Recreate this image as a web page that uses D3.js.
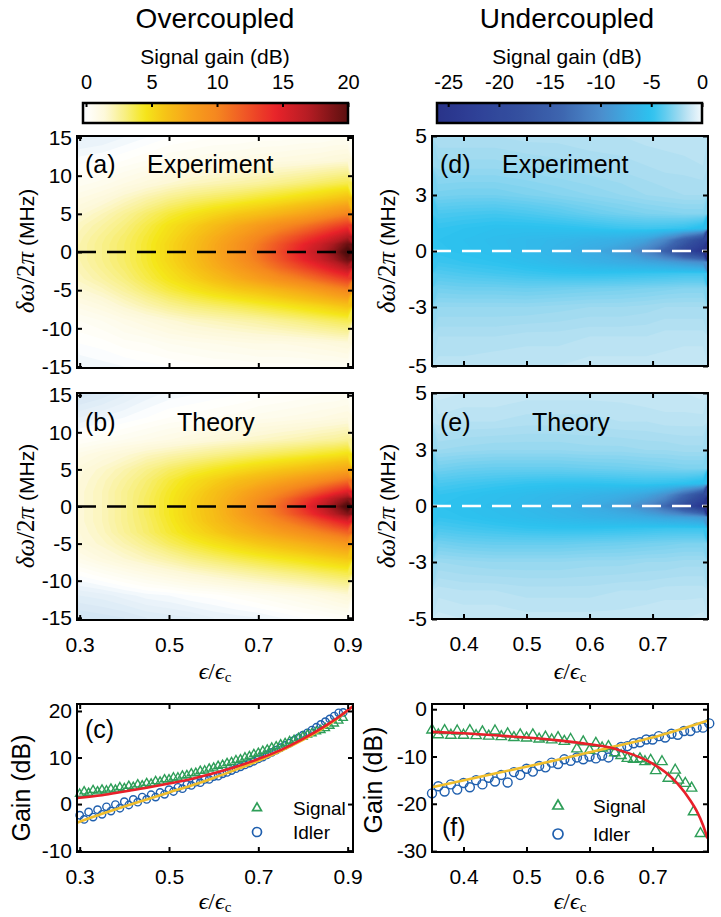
<!DOCTYPE html>
<meta charset="utf-8">
<style>body { margin: 0; background: #fff }</style>
<svg width="721" height="917"></svg>
<script src="https://d3js.org/d3.v7.min.js"></script>
<script>
// ---------- data ----------
// heatmap grids, overcoupled (a, b): one array per eps column, rows from +15 MHz down to -15 MHz
var gridEpsOver = [0.30, 0.35, 0.40, 0.45, 0.50, 0.55, 0.60, 0.65, 0.70, 0.75, 0.80, 0.84, 0.87, 0.90];
var gridDeltaOver = [15, 12, 9, 7, 5, 3.5, 2, 1, 0, -1, -2, -3.5, -5, -7, -9, -12, -15];
var gainExpOver = [
  [-0.7, -0.1, 0.5, 1.0, 1.5, 1.9, 2.1, 2.2, 2.2, 2.2, 2.1, 1.9, 1.5, 0.9, 0.4, 0.0, -0.4],
  [-0.6, 0.0, 0.7, 1.3, 2.0, 2.4, 2.7, 2.8, 2.8, 2.8, 2.7, 2.4, 1.9, 1.2, 0.6, 0.1, -0.3],
  [-0.4, 0.2, 1.0, 1.8, 2.6, 3.0, 3.3, 3.4, 3.4, 3.4, 3.3, 3.0, 2.5, 1.7, 0.9, 0.3, -0.2],
  [-0.2, 0.4, 1.3, 2.3, 3.3, 3.8, 4.1, 4.2, 4.2, 4.2, 4.1, 3.8, 3.2, 2.2, 1.2, 0.4, -0.1],
  [0.0, 0.6, 1.6, 2.8, 4.0, 4.7, 5.0, 5.2, 5.2, 5.2, 5.0, 4.6, 3.9, 2.7, 1.5, 0.6, 0.0],
  [0.1, 0.7, 1.9, 3.2, 4.6, 5.5, 6.0, 6.2, 6.3, 6.2, 6.0, 5.4, 4.5, 3.1, 1.8, 0.7, 0.1],
  [0.2, 0.8, 2.1, 3.5, 5.2, 6.4, 7.2, 7.5, 7.6, 7.5, 7.2, 6.3, 5.1, 3.4, 2.0, 0.8, 0.2],
  [0.2, 0.9, 2.3, 3.8, 5.8, 7.4, 8.4, 8.9, 9.0, 8.9, 8.4, 7.3, 5.7, 3.7, 2.2, 0.9, 0.2],
  [0.3, 1.0, 2.5, 4.2, 6.3, 8.4, 9.8, 10.5, 10.8, 10.5, 9.8, 8.3, 6.2, 4.1, 2.4, 1.0, 0.3],
  [0.3, 1.1, 2.8, 4.6, 7.0, 9.5, 11.4, 12.4, 12.8, 12.4, 11.4, 9.4, 6.9, 4.5, 2.7, 1.0, 0.3],
  [0.4, 1.2, 3.1, 5.1, 7.8, 10.6, 13.0, 14.4, 15.0, 14.4, 13.0, 10.5, 7.7, 5.0, 3.0, 1.1, 0.3],
  [0.4, 1.3, 3.4, 5.5, 8.6, 11.7, 14.4, 16.0, 16.8, 16.0, 14.4, 11.6, 8.5, 5.4, 3.3, 1.2, 0.4],
  [0.5, 1.4, 3.6, 5.9, 9.3, 12.6, 15.6, 17.5, 18.5, 17.5, 15.6, 12.5, 9.2, 5.8, 3.5, 1.3, 0.4],
  [0.5, 1.5, 3.8, 6.3, 10.0, 13.5, 17.0, 19.5, 21.0, 19.5, 17.0, 13.4, 9.9, 6.2, 3.7, 1.4, 0.5]
];
var gainThOver = [
  [-1.3, -0.6, 0.2, 0.9, 1.3, 1.4, 1.5, 1.5, 1.5, 1.5, 1.5, 1.4, 1.3, 0.8, 0.1, -0.8, -1.4],
  [-1.1, -0.4, 0.4, 1.2, 1.7, 1.9, 2.0, 2.0, 2.0, 2.0, 2.0, 1.9, 1.7, 1.2, 0.4, -0.7, -1.3],
  [-0.8, -0.2, 0.6, 1.5, 2.2, 2.5, 2.7, 2.7, 2.7, 2.7, 2.7, 2.6, 2.2, 1.6, 0.7, -0.5, -1.2],
  [-0.5, 0.0, 0.8, 1.9, 2.8, 3.2, 3.4, 3.5, 3.5, 3.5, 3.4, 3.3, 2.8, 2.0, 1.0, -0.3, -1.0],
  [-0.3, 0.2, 1.0, 2.2, 3.4, 4.0, 4.3, 4.4, 4.4, 4.4, 4.3, 4.1, 3.5, 2.4, 1.3, -0.2, -0.9],
  [-0.2, 0.3, 1.2, 2.5, 3.9, 4.8, 5.2, 5.4, 5.4, 5.4, 5.3, 4.9, 4.1, 2.9, 1.6, 0.0, -0.8],
  [-0.1, 0.4, 1.4, 2.8, 4.4, 5.5, 6.2, 6.4, 6.5, 6.4, 6.3, 5.7, 4.7, 3.3, 1.9, 0.1, -0.6],
  [0.0, 0.5, 1.6, 3.1, 4.9, 6.3, 7.3, 7.7, 7.9, 7.8, 7.4, 6.6, 5.3, 3.7, 2.2, 0.3, -0.5],
  [0.1, 0.7, 1.8, 3.4, 5.4, 7.0, 8.5, 9.2, 9.6, 9.3, 8.6, 7.4, 5.9, 4.1, 2.5, 0.5, -0.4],
  [0.2, 0.8, 2.0, 3.7, 5.9, 7.8, 9.8, 10.9, 11.5, 11.0, 10.0, 8.3, 6.5, 4.5, 2.8, 0.7, -0.2],
  [0.3, 0.9, 2.2, 4.0, 6.4, 8.7, 11.2, 13.0, 14.0, 13.1, 11.4, 9.2, 7.1, 4.9, 3.1, 0.9, 0.0],
  [0.4, 1.0, 2.4, 4.3, 6.9, 9.5, 12.6, 15.0, 16.3, 15.1, 12.8, 10.1, 7.7, 5.3, 3.4, 1.1, 0.1],
  [0.4, 1.1, 2.5, 4.5, 7.3, 10.2, 13.8, 16.8, 18.3, 16.9, 14.0, 10.8, 8.2, 5.6, 3.6, 1.3, 0.2],
  [0.5, 1.2, 2.7, 4.8, 7.7, 11.0, 15.0, 18.5, 21.0, 18.6, 15.2, 11.6, 8.7, 5.9, 3.8, 1.5, 0.3]
];

// heatmap grids, undercoupled (d, e): rows from +5 MHz down to -5 MHz
var gridEpsUnder = [0.36, 0.40, 0.45, 0.50, 0.55, 0.60, 0.65, 0.69, 0.72, 0.75, 0.78];
var gridDeltaUnder = [5, 4, 3, 2, 1.2, 0.6, 0, -0.6, -1.2, -2, -3, -4, -5];
var gainExpUnder = [
  [-1.8, -2.3, -3.1, -4.2, -4.8, -5.0, -4.9, -4.6, -4.0, -3.2, -2.4, -1.8, -1.5],
  [-1.8, -2.3, -3.2, -4.3, -5.0, -5.2, -5.1, -4.8, -4.2, -3.3, -2.4, -1.8, -1.5],
  [-1.8, -2.3, -3.2, -4.4, -5.2, -5.5, -5.4, -5.0, -4.4, -3.3, -2.4, -1.8, -1.4],
  [-1.7, -2.2, -3.0, -4.2, -5.2, -5.8, -5.8, -5.4, -4.6, -3.4, -2.4, -1.7, -1.4],
  [-1.7, -2.1, -2.8, -3.9, -5.1, -6.1, -6.4, -5.9, -4.8, -3.3, -2.3, -1.7, -1.4],
  [-1.6, -2.0, -2.6, -3.5, -4.9, -6.5, -7.2, -6.5, -4.9, -3.2, -2.2, -1.6, -1.3],
  [-1.6, -1.9, -2.4, -3.2, -4.6, -6.9, -8.5, -7.1, -4.8, -3.1, -2.2, -1.6, -1.3],
  [-1.5, -1.8, -2.2, -3.0, -4.5, -8.0, -11.0, -7.6, -4.7, -3.0, -2.1, -1.6, -1.3],
  [-1.5, -1.7, -2.1, -2.9, -4.6, -10.5, -14.5, -8.2, -4.6, -2.9, -2.0, -1.5, -1.3],
  [-1.4, -1.7, -2.0, -2.8, -4.8, -15.0, -20.0, -9.0, -4.5, -2.8, -2.0, -1.5, -1.2],
  [-1.4, -1.6, -2.0, -2.8, -5.5, -20.0, -25.0, -10.0, -4.5, -2.8, -2.0, -1.5, -1.2]
];
var gainThUnder = [
  [-1.1, -1.5, -2.2, -3.2, -4.2, -4.8, -5.0, -4.8, -4.2, -3.2, -2.2, -1.5, -1.1],
  [-1.2, -1.6, -2.3, -3.4, -4.4, -5.0, -5.2, -5.0, -4.4, -3.4, -2.3, -1.6, -1.2],
  [-1.2, -1.6, -2.4, -3.5, -4.6, -5.3, -5.5, -5.3, -4.6, -3.5, -2.4, -1.6, -1.2],
  [-1.3, -1.7, -2.4, -3.5, -4.8, -5.6, -5.9, -5.6, -4.8, -3.5, -2.4, -1.7, -1.3],
  [-1.3, -1.7, -2.4, -3.5, -4.9, -6.0, -6.4, -6.0, -4.9, -3.5, -2.4, -1.7, -1.3],
  [-1.3, -1.7, -2.3, -3.4, -4.9, -6.4, -7.2, -6.4, -4.9, -3.4, -2.3, -1.7, -1.3],
  [-1.3, -1.6, -2.3, -3.3, -4.8, -6.9, -8.4, -6.8, -4.8, -3.3, -2.3, -1.6, -1.3],
  [-1.2, -1.6, -2.2, -3.2, -4.7, -7.8, -10.5, -7.2, -4.7, -3.2, -2.2, -1.6, -1.2],
  [-1.2, -1.5, -2.2, -3.1, -4.8, -9.5, -13.5, -7.8, -4.6, -3.1, -2.2, -1.5, -1.2],
  [-1.2, -1.5, -2.1, -3.0, -5.0, -13.5, -18.5, -8.2, -4.6, -3.0, -2.1, -1.5, -1.2],
  [-1.1, -1.5, -2.1, -3.0, -5.5, -19.0, -25.0, -9.0, -4.6, -3.0, -2.1, -1.5, -1.1]
];

// (c) overcoupled gain vs eps
var epsC = [0.30, 0.31, 0.32, 0.33, 0.34, 0.35, 0.36, 0.37, 0.38, 0.39, 0.40, 0.41, 0.42, 0.43, 0.44,
  0.45, 0.46, 0.47, 0.48, 0.49, 0.50, 0.51, 0.52, 0.53, 0.54, 0.55, 0.56, 0.57, 0.58, 0.59,
  0.60, 0.61, 0.62, 0.63, 0.64, 0.65, 0.66, 0.67, 0.68, 0.69, 0.70, 0.71, 0.72, 0.73, 0.74,
  0.75, 0.76, 0.77, 0.78, 0.79, 0.80, 0.81, 0.82, 0.83, 0.84, 0.85, 0.86, 0.87, 0.88, 0.89];
var signalC = [2.2, 2.7, 2.4, 3.0, 2.7, 3.1, 2.9, 3.3, 3.1, 3.6, 3.4, 3.9, 3.7, 4.2, 4.0,
  4.5, 4.4, 4.9, 4.8, 5.3, 5.3, 5.7, 5.7, 6.1, 6.2, 6.6, 6.7, 7.1, 7.2, 7.6,
  7.8, 8.2, 8.4, 8.8, 9.0, 9.4, 9.6, 10.0, 10.3, 10.7, 11.0, 11.4, 11.7, 12.1, 12.4,
  12.8, 13.1, 13.5, 13.8, 14.2, 14.5, 14.9, 15.2, 15.6, 15.9, 16.3, 16.8, 17.3, 17.9, 18.5];
var idlerC = [-2.4, -3.3, -1.7, -2.8, -1.2, -2.2, -0.6, -1.5, -0.1, -0.9, 0.5, -0.2, 1.0, 0.4, 1.5,
  1.0, 2.0, 1.5, 2.5, 2.1, 3.1, 2.7, 3.6, 3.3, 4.2, 4.0, 4.7, 4.6, 5.3, 5.3,
  5.9, 6.0, 6.5, 6.8, 7.2, 7.6, 8.0, 8.4, 8.8, 9.2, 9.7, 10.1, 10.6, 11.1, 11.6,
  12.1, 12.6, 13.1, 13.7, 14.2, 14.8, 15.3, 15.9, 16.5, 17.1, 17.7, 18.3, 18.9, 19.6, 19.7];
var epsFitC = [0.294, 0.35, 0.40, 0.45, 0.50, 0.55, 0.60, 0.65, 0.70, 0.75, 0.80, 0.85, 0.88, 0.912];
var signalFitC = [1.3, 1.9, 2.7, 3.5, 4.4, 5.4, 6.6, 8.0, 9.7, 11.6, 14.0, 16.8, 18.7, 21.0];
var idlerFitC = [-4.0, -2.1, -0.5, 1.0, 2.5, 4.0, 5.6, 7.4, 9.3, 11.4, 13.8, 16.6, 18.6, 21.0];

// (f) undercoupled gain vs eps
var epsSignalF = [0.35, 0.36, 0.37, 0.38, 0.39, 0.40, 0.41, 0.42, 0.43, 0.44, 0.45, 0.46, 0.47, 0.48, 0.49,
  0.50, 0.51, 0.52, 0.53, 0.54, 0.55, 0.56, 0.57, 0.58, 0.59, 0.60, 0.61, 0.62, 0.63, 0.64,
  0.65, 0.66, 0.67, 0.68, 0.688, 0.697, 0.705, 0.715, 0.725, 0.736, 0.741, 0.752, 0.762, 0.765, 0.776];
var signalF = [-4.4, -5.4, -4.5, -5.5, -4.6, -5.5, -4.5, -5.6, -4.8, -5.7, -4.6, -5.8, -5.2, -6.0, -5.4,
  -6.1, -5.4, -6.3, -5.9, -6.5, -6.0, -6.8, -6.4, -8.4, -6.9, -8.7, -7.2, -8.2, -7.9, -9.2,
  -9.8, -10.4, -10.6, -10.5, -11.1, -10.8, -13.0, -11.1, -14.6, -12.9, -15.0, -15.7, -16.7, -21.7, -26.3];
var epsIdlerF = [0.35, 0.36, 0.37, 0.38, 0.39, 0.40, 0.41, 0.42, 0.43, 0.44, 0.45, 0.46, 0.47, 0.48, 0.49,
  0.50, 0.51, 0.52, 0.53, 0.54, 0.55, 0.56, 0.57, 0.58, 0.59, 0.60, 0.61, 0.62, 0.63, 0.64,
  0.65, 0.66, 0.67, 0.68, 0.69, 0.70, 0.71, 0.72, 0.73, 0.74, 0.75, 0.76, 0.77, 0.78, 0.79];
var idlerF = [-17.8, -16.3, -17.4, -15.9, -17.0, -15.6, -16.5, -15.0, -15.9, -14.5, -15.3, -13.9, -15.5, -13.3, -13.9,
  -12.6, -13.2, -12.0, -12.3, -11.3, -11.6, -10.6, -10.9, -10.2, -10.6, -10.0, -10.4, -9.8, -10.2, -9.0,
  -8.0, -7.8, -7.2, -7.0, -6.4, -6.4, -5.7, -6.0, -5.2, -5.4, -4.6, -4.6, -3.9, -3.9, -3.0];
var epsSignalFitF = [0.35, 0.40, 0.45, 0.50, 0.55, 0.60, 0.633, 0.65, 0.68, 0.70, 0.72, 0.74, 0.76, 0.77, 0.78, 0.787];
var signalFitF = [-4.8, -5.1, -5.5, -6.0, -6.6, -7.4, -8.1, -8.8, -10.2, -11.5, -13.3, -15.8, -19.3, -21.5, -24.5, -27.3];
var epsIdlerFitF = [0.35, 0.45, 0.55, 0.633, 0.70, 0.788];
var idlerFitF = [-16.5, -13.6, -10.7, -8.1, -6.0, -2.4];

// ticks
var ticksEpsOver = [0.3, 0.5, 0.7, 0.9];
var ticksEpsUnder = [0.4, 0.5, 0.6, 0.7];
var ticksDeltaOver = [-15, -10, -5, 0, 5, 10, 15];
var ticksDeltaUnder = [-5, -3, 0, 3, 5];
var ticksGainC = [-10, 0, 10, 20];
var ticksGainF = [-30, -20, -10, 0];
var ticksBarOver = [0, 5, 10, 15, 20];
var ticksBarUnder = [-25, -20, -15, -10, -5, 0];

// ---------- drawing ----------
var sans = "'Liberation Sans', Arial, sans-serif";
var serif = "'Liberation Serif', 'DejaVu Serif', serif";
var svg = d3.select("svg").attr("font-family", sans);

var warm = d3.scaleLinear()
    .domain([-1.5, -0.5, 0, 1.5, 3, 4.5, 6, 8, 10, 12, 14.5, 17, 20, 22])
    .range(["#cfe3f2", "#eaf3fa", "#ffffff", "#fdf8d8", "#f8ef80", "#f5e61a", "#f6c416",
            "#f7a11b", "#f5861f", "#f05a25", "#e8232a", "#b41c23", "#5a0f0f", "#3a0808"])
    .clamp(true);
var cool = d3.scaleLinear()
    .domain([-26, -22, -18, -14, -10, -7, -5, -3.5, -2, -1, 0])
    .range(["#29338a", "#2f4298", "#34509f", "#3d64ae", "#4b8dcc", "#3aaee4", "#2cc2ef",
            "#66cdef", "#a6dcf0", "#cfeaf6", "#f2f9fc"])
    .clamp(true);

var W = 276, colL = 77, colR = 432;
var xOver = d3.scaleLinear().domain([0.294, 0.912]).range([0, W]);
var xUnder = d3.scaleLinear().domain([0.35, 0.788]).range([0, W]);
var clipN = 0;

function heatmap(g, x, y, h, eps, delta, epsEdge, deltaEdge, cols, color, lo, hi, step) {
  var n = eps.length, m = delta.length, values = new Array(n * m);
  cols.forEach(function(col, i) { col.forEach(function(v, j) { values[j * n + i] = v; }); });
  var gx = d3.scaleLinear()
      .domain([0].concat(eps.map(function(d, i) { return i + 0.5; }), [n]))
      .range([epsEdge[0]].concat(eps, [epsEdge[1]]));
  var gy = d3.scaleLinear()
      .domain([0].concat(delta.map(function(d, j) { return j + 0.5; }), [m]))
      .range([deltaEdge[0]].concat(delta, [deltaEdge[1]]));
  var path = d3.geoPath(d3.geoTransform({
    point: function(px, py) { this.stream.point(x(gx(px)), y(gy(py))); }
  }));
  var id = "clip" + (clipN++);
  g.append("clipPath").attr("id", id).append("rect").attr("width", W).attr("height", h);
  g.append("g").attr("clip-path", "url(#" + id + ")")
    .selectAll("path")
    .data(d3.contours().size([n, m]).thresholds(d3.range(lo, hi, step))(values))
    .join("path")
      .attr("d", path)
      .attr("fill", function(d) { return color(d.value + step / 2); });
}

function frame(g, x, y, h, xTicks, yTicks, xLabels) {
  var fmt = function(d) { return String(d); };
  g.append("g").call(d3.axisLeft(y).tickValues(yTicks).tickSize(-5).tickPadding(5).tickFormat(fmt));
  g.append("g").attr("transform", "translate(" + W + ",0)")
      .call(d3.axisRight(y).tickValues(yTicks).tickSize(-5).tickFormat(""));
  g.append("g").call(d3.axisTop(x).tickValues(xTicks).tickSize(-5).tickFormat(""));
  g.append("g").attr("transform", "translate(0," + h + ")")
      .call(d3.axisBottom(x).tickValues(xTicks).tickSize(-5).tickPadding(17)
        .tickFormat(xLabels ? fmt : ""));
  g.selectAll(".domain").remove();
  g.selectAll(".tick line").attr("stroke-width", 2);
  g.selectAll("g").attr("font-family", sans).attr("font-size", 21);
  g.append("rect").attr("width", W).attr("height", h)
      .attr("fill", "none").attr("stroke", "#000").attr("stroke-width", 2);
}

function zeroLine(g, y, stroke) {
  g.append("line").attr("x1", 0).attr("x2", W).attr("y1", y(0)).attr("y2", y(0))
      .attr("stroke", stroke).attr("stroke-width", 2.4).attr("stroke-dasharray", "19,11");
}

function label(x, y, s, size) {
  svg.append("text").attr("x", x).attr("y", y).attr("font-size", size || 25).text(s);
}

function yLabelDelta(x, y) {
  var t = svg.append("text").attr("transform", "translate(" + x + "," + y + ") rotate(-90)")
      .attr("text-anchor", "middle").attr("font-size", 21);
  t.append("tspan").attr("font-family", serif).attr("font-style", "italic").attr("font-size", 25).text("δω");
  t.append("tspan").attr("font-family", serif).attr("font-size", 25).text("/2");
  t.append("tspan").attr("font-family", serif).attr("font-style", "italic").attr("font-size", 25).text("π");
  t.append("tspan").text(" (MHz)");
}

function yLabelGain(x, y) {
  svg.append("text").attr("transform", "translate(" + x + "," + y + ") rotate(-90)")
      .attr("text-anchor", "middle").attr("font-size", 25).text("Gain (dB)");
}

function xLabelEps(x, y) {
  var t = svg.append("text").attr("x", x).attr("y", y).attr("text-anchor", "middle")
      .attr("font-family", serif).attr("font-size", 24);
  t.append("tspan").attr("font-style", "italic").text("ϵ");
  t.append("tspan").text("/");
  t.append("tspan").attr("font-style", "italic").text("ϵ");
  t.append("tspan").attr("font-size", 15).attr("dy", 3).text("c");
}

function colorbar(x0, x1, domain, color, ticks, title, cx, id) {
  var s = d3.scaleLinear().domain(domain).range([x0, x1]);
  var grad = svg.append("defs").append("linearGradient").attr("id", id);
  d3.range(0, 1.0001, 0.02).forEach(function(t) {
    grad.append("stop").attr("offset", t).attr("stop-color", color(s.invert(x0 + t * (x1 - x0))));
  });
  svg.append("rect").attr("x", x0).attr("y", 103).attr("width", x1 - x0).attr("height", 20)
      .attr("fill", "url(#" + id + ")").attr("stroke", "#000").attr("stroke-width", 2.5);
  var ax = svg.append("g").attr("transform", "translate(0,103)")
      .call(d3.axisTop(s).tickValues(ticks).tickSize(-4).tickPadding(14)
        .tickFormat(function(d) { return String(d); }));
  ax.select(".domain").remove();
  ax.selectAll(".tick line").attr("stroke-width", 2);
  ax.attr("font-family", sans).attr("font-size", 20);
  svg.append("text").attr("x", cx).attr("y", 28).attr("text-anchor", "middle")
      .attr("font-size", 28).text(title);
  svg.append("text").attr("x", cx).attr("y", 64).attr("text-anchor", "middle")
      .attr("font-size", 21).text("Signal gain (dB)");
}

function markers(g, x, y, xs, ys, kind, size) {
  var pts = d3.zip(xs, ys);
  if (kind === "tri") {
    g.append("g").selectAll("path").data(pts).join("path")
        .attr("transform", function(d) { return "translate(" + x(d[0]) + "," + y(d[1]) + ")"; })
        .attr("d", d3.symbol(d3.symbolTriangle, size))
        .attr("fill", "none").attr("stroke", "#2e9e58").attr("stroke-width", 1.4);
  } else {
    g.append("g").selectAll("circle").data(pts).join("circle")
        .attr("cx", function(d) { return x(d[0]); }).attr("cy", function(d) { return y(d[1]); })
        .attr("r", size).attr("fill", "none").attr("stroke", "#1f5fae").attr("stroke-width", 1.4);
  }
}

function fitLine(g, x, y, xs, ys, stroke) {
  g.append("path").datum(d3.zip(xs, ys))
      .attr("fill", "none").attr("stroke", stroke).attr("stroke-width", 2.6)
      .attr("d", d3.line().x(function(d) { return x(d[0]); }).y(function(d) { return y(d[1]); })
        .curve(d3.curveMonotoneX));
}

function legend(xm, ys, yc, xt, triSize, r) {
  svg.append("path").attr("transform", "translate(" + xm + "," + ys + ")")
      .attr("d", d3.symbol(d3.symbolTriangle, triSize))
      .attr("fill", "none").attr("stroke", "#2e9e58").attr("stroke-width", 1.7);
  svg.append("circle").attr("cx", xm).attr("cy", yc).attr("r", r)
      .attr("fill", "none").attr("stroke", "#1f5fae").attr("stroke-width", 1.7);
  label(xt, ys + 7, "Signal", 19);
  label(xt, yc + 7, "Idler", 19);
}

// colorbars and titles
colorbar(83, 348, [-0.23, 20], warm, ticksBarOver, "Overcoupled", 215, "gw");
colorbar(437, 702, [-26.1, 0], cool, ticksBarUnder, "Undercoupled", 567, "gc");

// (a)
var gA = svg.append("g").attr("transform", "translate(" + colL + ",136)");
var yA = d3.scaleLinear().domain([-15.2, 15.2]).range([232, 0]);
heatmap(gA, xOver, yA, 232, gridEpsOver, gridDeltaOver, [0.294, 0.912], [15.2, -15.2], gainExpOver, warm, -1.6, 22, 0.2);
zeroLine(gA, yA, "#000");
frame(gA, xOver, yA, 232, ticksEpsOver, ticksDeltaOver, false);

// (b)
var gB = svg.append("g").attr("transform", "translate(" + colL + ",393)");
var yB = d3.scaleLinear().domain([-15.3, 15.3]).range([227, 0]);
heatmap(gB, xOver, yB, 227, gridEpsOver, gridDeltaOver, [0.294, 0.912], [15.3, -15.3], gainThOver, warm, -1.6, 22, 0.2);
zeroLine(gB, yB, "#000");
frame(gB, xOver, yB, 227, ticksEpsOver, ticksDeltaOver, true);

// (c)
var gC = svg.append("g").attr("transform", "translate(" + colL + ",704)");
var yC = d3.scaleLinear().domain([-10.3, 21.5]).range([148, 0]);
markers(gC, xOver, yC, epsC, idlerC, "circ", 3.7);
markers(gC, xOver, yC, epsC, signalC, "tri", 30);
fitLine(gC, xOver, yC, epsFitC, idlerFitC, "#f0be2c");
fitLine(gC, xOver, yC, epsFitC, signalFitC, "#e8202a");
frame(gC, xOver, yC, 148, ticksEpsOver, ticksGainC, true);

// (d)
var yD = d3.scaleLinear().domain([-5, -3, 3, 5]).range([230, 230 * 0.7435, 230 * 0.2565, 0]);
var gD = svg.append("g").attr("transform", "translate(" + colR + ",136)");
heatmap(gD, xUnder, yD, 230, gridEpsUnder, gridDeltaUnder, [0.35, 0.788], [5, -5], gainExpUnder, cool, -26, 0.2, 0.2);
zeroLine(gD, yD, "#fff");
frame(gD, xUnder, yD, 230, ticksEpsUnder, ticksDeltaUnder, false);

// (e)
var yE = d3.scaleLinear().domain([-5, -3, 3, 5]).range([226, 226 * 0.7478, 226 * 0.2522, 0]);
var gE = svg.append("g").attr("transform", "translate(" + colR + ",393)");
heatmap(gE, xUnder, yE, 226, gridEpsUnder, gridDeltaUnder, [0.35, 0.788], [5, -5], gainThUnder, cool, -26, 0.2, 0.2);
zeroLine(gE, yE, "#fff");
frame(gE, xUnder, yE, 226, ticksEpsUnder, ticksDeltaUnder, true);

// (f)
var gF = svg.append("g").attr("transform", "translate(" + colR + ",704)");
var yF = d3.scaleLinear().domain([-30.2, 1.1]).range([148, 0]);
markers(gF, xUnder, yF, epsIdlerF, idlerF, "circ", 4.5);
markers(gF, xUnder, yF, epsSignalF, signalF, "tri", 46);
fitLine(gF, xUnder, yF, epsIdlerFitF, idlerFitF, "#f0be2c");
fitLine(gF, xUnder, yF, epsSignalFitF, signalFitF, "#e8202a");
frame(gF, xUnder, yF, 148, ticksEpsUnder, ticksGainF, true);

// panel labels
label(85, 173, "(a)"); label(147, 173, "Experiment");
label(85, 431, "(b)"); label(177, 431, "Theory");
label(85, 738, "(c)");
label(440, 173, "(d)"); label(502, 173, "Experiment");
label(440, 431, "(e)"); label(532, 431, "Theory");
label(442, 836, "(f)");

legend(257, 808, 832, 293, 34, 4.5);
legend(558, 806, 834, 593, 46, 5);

// axis titles
yLabelDelta(34, 251); yLabelDelta(34, 506);
yLabelDelta(395, 251); yLabelDelta(395, 506);
yLabelGain(30, 788); yLabelGain(382, 780);
xLabelEps(215, 679); xLabelEps(215, 909);
xLabelEps(570, 679); xLabelEps(570, 909);
</script>
